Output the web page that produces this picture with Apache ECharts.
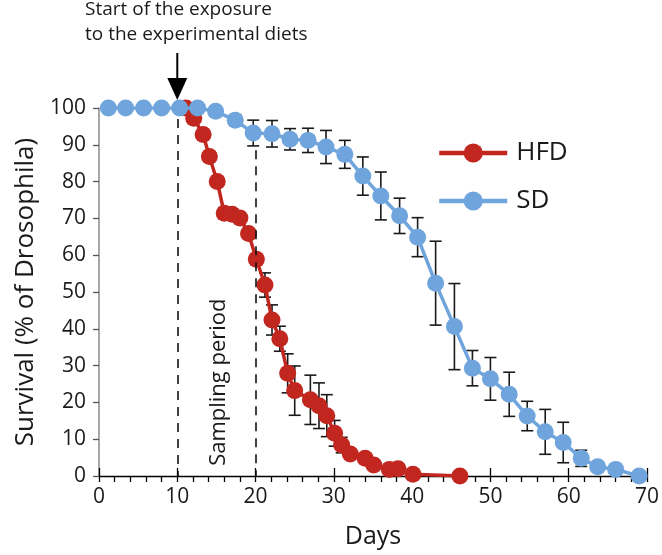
<!DOCTYPE html>
<html><head><meta charset="utf-8">
<script src="https://cdn.jsdelivr.net/npm/echarts@6/dist/echarts.min.js"></script>
<style>html,body{margin:0;padding:0;background:#fff}#c{width:662px;height:555px}</style>
</head><body><div id="c"></div>
<script>
// ---- data ----
const hfdDays = [11.1, 12.1, 13.3, 14.1, 15.1, 16.0, 17.0, 18.0, 19.1, 20.1, 21.2, 22.1, 23.1, 24.1, 25.0, 27.0, 28.1, 29.1, 30.1, 31.0, 32.1, 34.0, 35.1, 37.1, 38.2, 40.1, 46.1];
const hfdVals = [100, 97.2, 92.8, 86.8, 80.0, 71.4, 71.1, 70.1, 65.9, 58.9, 51.9, 42.4, 37.3, 27.9, 23.2, 20.7, 19.1, 16.4, 11.6, 8.4, 6.0, 4.8, 3.0, 1.8, 2.0, 0.5, 0];
const hfdErr  = [0, 0, 0, 1.2, 0, 1.5, 1.5, 1.5, 1.0, 1.5, 3.3, 4.1, 3.4, 5.3, 6.7, 6.7, 6.2, 5.7, 3.5, 2.1, 1.0, 1.2, 0, 0, 0, 0, 0];

const sdDays = [1.2, 3.4, 5.7, 8.0, 10.3, 12.6, 14.9, 17.4, 19.7, 22.1, 24.4, 26.7, 29.0, 31.4, 33.7, 36.0, 38.4, 40.7, 43.0, 45.4, 47.7, 50.0, 52.4, 54.7, 57.0, 59.3, 61.6, 63.7, 66.0, 69.0];
const sdVals = [100, 100, 100, 100, 100, 100, 99.1, 96.7, 93.2, 93.0, 91.5, 91.2, 89.4, 87.4, 81.5, 76.1, 70.7, 64.9, 52.4, 40.6, 29.3, 26.4, 22.2, 16.3, 12.0, 9.1, 4.8, 2.5, 1.8, 0];
const sdErr  = [0, 0, 0, 0, 0, 0, 0, 1.5, 3.5, 3.6, 2.9, 3.3, 4.5, 3.8, 5.2, 6.5, 4.8, 5.3, 11.4, 11.7, 4.8, 5.8, 6.0, 4.0, 6.1, 5.5, 2.2, 0, 0, 0];

const xTicks = { min: 0, max: 70, interval: 10 };
const yTicks = { min: 0, max: 100, interval: 10 };
const exposureDay = 10;
const samplingEnd = 20;
const seriesNames = ['HFD', 'SD'];

// ---- styles ----
const FONT = '"Open Sans", "Noto Sans", sans-serif';
const RED = '#c1261f';
const BLUE = '#6fa5dc';
const TXT = '#1a1a1a';

const zip3 = (a, b, c) => a.map((v, i) => [v, b[i], c[i]]);
const zip2 = (a, b) => a.map((v, i) => [v, b[i]]);

function errRender(params, api) {
  const x = api.value(0), y = api.value(1), e = api.value(2);
  if (!e) return null;
  const top = api.coord([x, y + e]), bot = api.coord([x, y - e]);
  const cap = 6;
  const style = { stroke: '#1a1a1a', lineWidth: 1.6 };
  return { type: 'group', children: [
    { type: 'line', shape: { x1: top[0], y1: top[1], x2: bot[0], y2: bot[1] }, style },
    { type: 'line', shape: { x1: top[0] - cap, y1: top[1], x2: top[0] + cap, y2: top[1] }, style },
    { type: 'line', shape: { x1: bot[0] - cap, y1: bot[1], x2: bot[0] + cap, y2: bot[1] }, style }
  ]};
}

const chart = echarts.init(document.getElementById('c'), null, { renderer: 'canvas' });
const option = {
  animation: false,
  backgroundColor: '#fff',
  textStyle: { fontFamily: FONT },
  grid: { left: 99, right: 12, top: 108, bottom: 79, containLabel: false },
  legend: {
    data: seriesNames, orient: 'vertical', left: 432, top: 135,
    itemWidth: 68, itemHeight: 24, itemGap: 22,
    lineStyle: { width: 4.5 },
    textStyle: { fontSize: 26, color: TXT, fontFamily: FONT, padding: [0, 0, 0, 4] }
  },
  xAxis: [{
    type: 'value', min: xTicks.min, max: xTicks.max, interval: xTicks.interval,
    name: 'Days', nameLocation: 'middle', nameGap: 48,
    nameTextStyle: { fontSize: 25, color: TXT, fontFamily: FONT },
    axisLine: { lineStyle: { color: '#000', width: 1.3 } },
    axisTick: { show: true, length: 6, lineStyle: { color: '#000', width: 1.3 } },
    minorTick: { show: true, splitNumber: 5, length: 6, lineStyle: { color: '#000', width: 1.3 } },
    axisLabel: { fontSize: 21, color: TXT, margin: 11, fontFamily: FONT },
    splitLine: { show: false }
  }, {
    type: 'value', min: xTicks.min, max: xTicks.max, interval: xTicks.interval,
    position: 'bottom', gridIndex: 0,
    axisLine: { show: false },
    axisTick: { show: true, inside: true, length: 8, lineStyle: { color: '#000', width: 1.3 } },
    axisLabel: { show: false }, splitLine: { show: false }
  }],
  yAxis: {
    type: 'value', min: yTicks.min, max: yTicks.max, interval: yTicks.interval,
    name: 'Survival (% of Drosophila)', nameLocation: 'middle', nameGap: 60,
    nameTextStyle: { fontSize: 26, color: TXT, fontFamily: FONT },
    axisLine: { show: true, lineStyle: { color: '#8a8a8a', width: 1.5 } },
    axisTick: { show: true, length: 6, lineStyle: { color: '#555', width: 1.3 } },
    axisLabel: { fontSize: 21, color: TXT, margin: 13, fontFamily: FONT },
    splitLine: { show: false }
  },
  series: [
    { name: 'HFD err', type: 'custom', renderItem: errRender, data: zip3(hfdDays, hfdVals, hfdErr),
      encode: { x: 0, y: 1 }, z: 1, silent: true },
    { name: 'SD err', type: 'custom', renderItem: errRender, data: zip3(sdDays, sdVals, sdErr),
      encode: { x: 0, y: 1 }, z: 1, silent: true },
    { name: 'HFD', type: 'line', data: zip2(hfdDays, hfdVals), symbol: 'circle', symbolSize: 17,
      itemStyle: { color: RED }, lineStyle: { color: RED, width: 3.5 }, z: 3,
      markLine: { silent: true, symbol: 'none', label: { show: false },
        lineStyle: { color: '#111', type: [9, 7], width: 1.6 },
        data: [
          [{ coord: [exposureDay, 97] }, { coord: [exposureDay, 0] }],
          [{ coord: [samplingEnd, 88.5] }, { coord: [samplingEnd, 0] }]
        ] } },
    { name: 'SD', type: 'line', data: zip2(sdDays, sdVals), symbol: 'circle', symbolSize: 17,
      itemStyle: { color: BLUE }, lineStyle: { color: BLUE, width: 3.5 }, z: 4 }
  ]
};
chart.setOption(option);

// annotations placed relative to data coordinates
const tip = chart.convertToPixel({ gridIndex: 0 }, [exposureDay, 100]);
const sp = chart.convertToPixel({ gridIndex: 0 }, [15.3, 25.5]);
chart.setOption({
  graphic: [
    { type: 'line', shape: { x1: tip[0], y1: 53, x2: tip[0], y2: tip[1] - 20 }, style: { stroke: '#000', lineWidth: 2 } },
    { type: 'polygon', shape: { points: [[tip[0] - 10, tip[1] - 30], [tip[0] + 10, tip[1] - 30], [tip[0], tip[1] - 8]] }, style: { fill: '#000' } },
    { type: 'text', left: 85, top: 0, style: { text: 'Start of the exposure', fontSize: 19, fill: TXT, fontFamily: FONT } },
    { type: 'text', left: 85, top: 25, style: { text: 'to the experimental diets', fontSize: 19, fill: TXT, fontFamily: FONT } },
    { type: 'text', x: sp[0], y: sp[1], rotation: Math.PI / 2,
      style: { text: 'Sampling period', fontSize: 22, fill: TXT, fontFamily: FONT, align: 'center', verticalAlign: 'middle' } }
  ]
});
</script></body></html>
